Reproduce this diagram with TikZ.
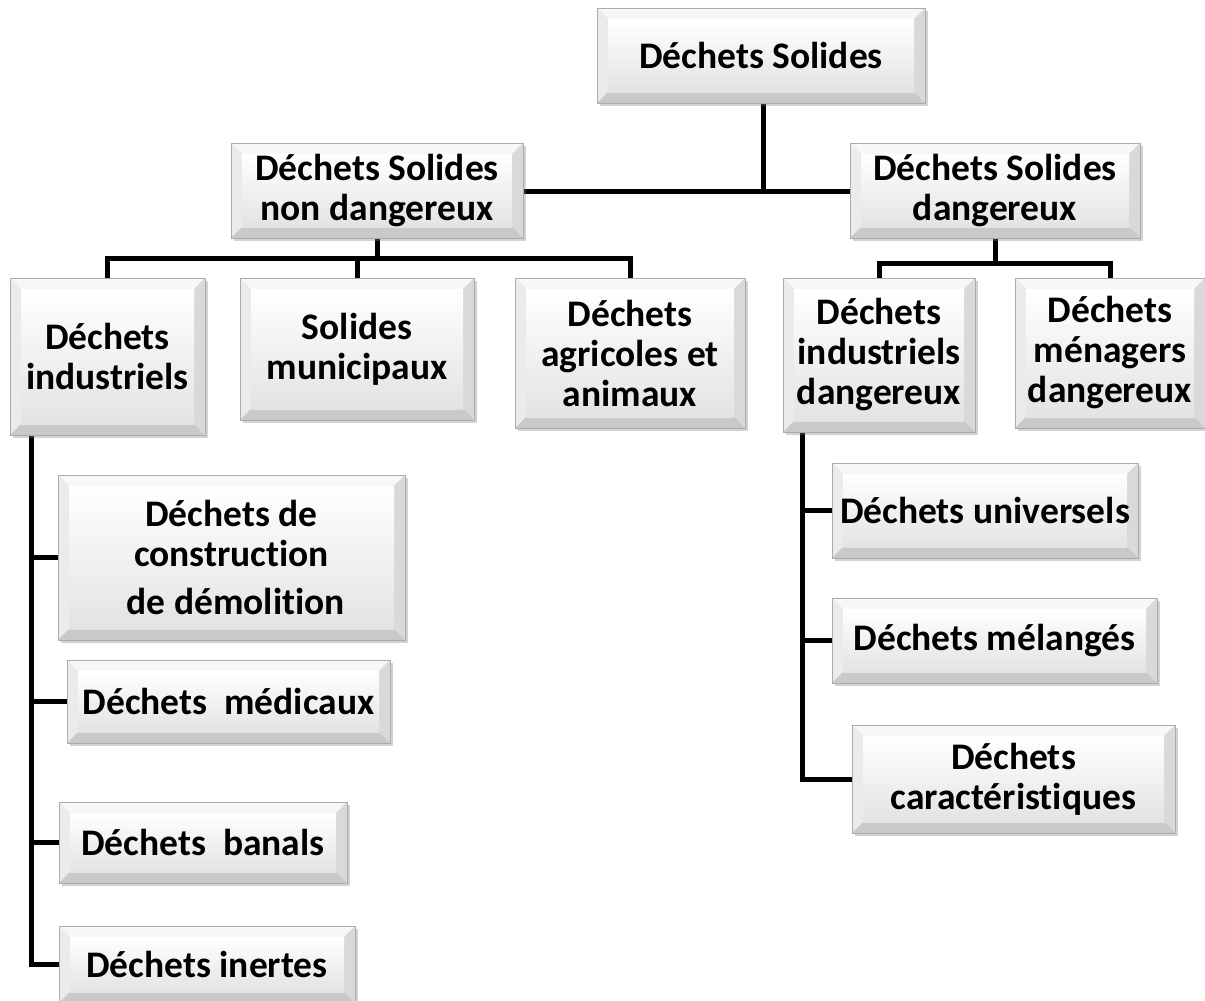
\documentclass[tikz,border=0pt]{standalone}
\usepackage{fontspec}
\setmainfont{Carlito}[Ligatures={NoCommon}]
\usetikzlibrary{calc,shadows}
\pgfdeclarelayer{bg}
\pgfdeclarelayer{paper}
\pgfsetlayers{paper,bg,main}
\tikzset{
  bev/.style={rectangle, inner sep=0pt, align=center, text=black,
    font=\fontsize{37.5}{40}\selectfont\bfseries,
    draw=gray!65, line width=0.6pt,
    drop shadow={shadow xshift=3pt, shadow yshift=-3pt, opacity=0.35, fill=gray},
    fill=gray!22,
    path picture={
      \coordinate (pbl) at (path picture bounding box.south west);
      \coordinate (ptr) at (path picture bounding box.north east);
      \coordinate (ptl) at (path picture bounding box.north west);
      \coordinate (pbr) at (path picture bounding box.south east);
      \fill[gray!6] (ptl) -- (ptr) -- ($(ptr)+(-11pt,-11pt)$) -- ($(ptl)+(11pt,-11pt)$) -- cycle;
      \fill[gray!16] (ptl) -- (pbl) -- ($(pbl)+(11pt,11pt)$) -- ($(ptl)+(11pt,-11pt)$) -- cycle;
      \fill[gray!30] (ptr) -- (pbr) -- ($(pbr)+(-11pt,11pt)$) -- ($(ptr)+(-11pt,-11pt)$) -- cycle;
      \fill[gray!42] (pbl) -- (pbr) -- ($(pbr)+(-11pt,11pt)$) -- ($(pbl)+(11pt,11pt)$) -- cycle;
      \shade[top color=white, bottom color=gray!22] ($(pbl)+(11pt,11pt)$) rectangle ($(ptr)+(-11pt,-11pt)$);
    }},
  conn/.style={line width=5pt, black, line cap=rect}
}
\newcommand{\bbox}[6]{%
  \node[bev, minimum width={#4-#2}, minimum height={#5-#3}] (#1) at ({(#2+#4)/2},{(#3+#5)/2}) {#6};}
\begin{document}
\begin{tikzpicture}[x=1pt,y=-1pt]
\begin{pgfonlayer}{paper}
\fill[white] (0,0) rectangle (1205,1001);
\end{pgfonlayer}
\useasboundingbox (0,0) rectangle (1205,1001);
% level 0
\bbox{top}{597}{8}{925}{103}{Déchets Solides}
% level 1
\bbox{nd}{231}{143}{523}{238}{Déchets Solides\\non dangereux}
\bbox{d}{850}{143}{1140}{238}{Déchets Solides\\dangereux}
% level 2
\bbox{ind}{10}{278}{205}{435}{Déchets\\industriels}
\bbox{mun}{240}{278}{474}{420}{Solides\\municipaux}
\bbox{agr}{515}{278}{745}{428}{Déchets\\agricoles et\\animaux}
\bbox{idg}{783}{278}{975}{432}{Déchets\\industriels\\dangereux}
\bbox{men}{1015}{278}{1205}{428}{Déchets\\ménagers\\dangereux}
% left column
\bbox{con}{58}{475}{405}{640}{Déchets de\\construction\\[8pt]\ de démolition}
\bbox{med}{67}{660}{390}{743}{Déchets\ \ médicaux}
\bbox{ban}{59}{802}{347}{883}{Déchets\ \ banals}
\bbox{ine}{59}{926}{355}{1003}{Déchets inertes}
% right column
\bbox{uni}{832}{463}{1138}{558}{Déchets universels}
\bbox{mel}{832}{598}{1157}{683}{Déchets mélangés}
\bbox{car}{852}{725}{1175}{833}{Déchets\\caractéristiques}
% connectors
\coordinate (hub) at (763,191);
\coordinate (lb) at (377,258);
\coordinate (rb) at (995,263);
\coordinate (lv) at (31,435);
\coordinate (rv) at (802,432);
\begin{pgfonlayer}{bg}
\draw[conn] (top.south -| hub) -- (hub);
\draw[conn] (nd.east |- hub) -- (d.west |- hub);
\draw[conn] (nd.south) -- (nd.south |- lb);
\draw[conn] (ind.north) |- (agr.north |- lb) -- (agr.north);
\draw[conn] (mun.north) -- (mun.north |- lb);
\draw[conn] (d.south) -- (d.south |- rb);
\draw[conn] (idg.north) |- (men.north |- rb) -- (men.north);
\draw[conn] (ind.south -| lv) |- (ine.west);
\draw[conn] (con.west) -- (con.west -| lv);
\draw[conn] (med.west) -- (med.west -| lv);
\draw[conn] (ban.west) -- (ban.west -| lv);
\draw[conn] (idg.south -| rv) |- (car.west);
\draw[conn] (uni.west) -- (uni.west -| rv);
\draw[conn] (mel.west) -- (mel.west -| rv);
\end{pgfonlayer}
\end{tikzpicture}
\end{document}
